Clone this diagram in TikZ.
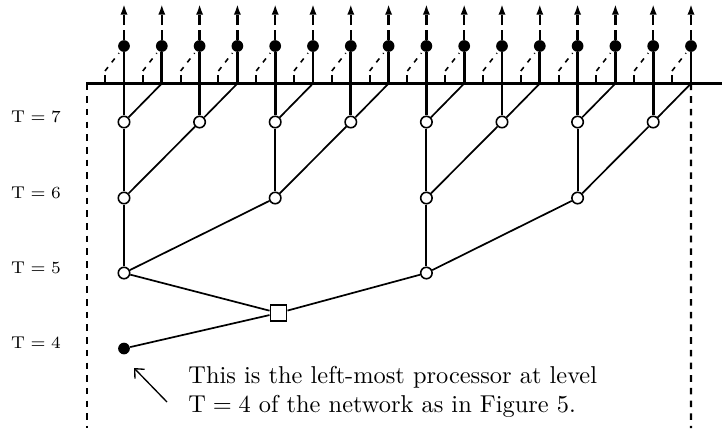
\documentclass[tikz,border=0pt]{standalone}
\usetikzlibrary{arrows.meta}
\begin{document}
\begin{tikzpicture}[x=0.41pt,y=-0.41pt,
  topdot/.style={circle,fill=black,inner sep=0pt,minimum size=4.8pt},
  pcirc/.style={circle,draw=black,fill=white,line width=0.65pt,inner sep=0pt,minimum size=4.7pt},
  sqnode/.style={rectangle,draw=black,fill=white,line width=0.75pt,inner sep=0pt,minimum size=6.6pt},
  busline/.style={line width=1.3pt},
  heavy/.style={line width=1.1pt},
  medium/.style={line width=0.85pt},
  thinl/.style={line width=0.7pt},
  upar/.style={line width=1.05pt,dash pattern=on 4pt off 2pt,-{Latex[length=4.4pt,width=3pt]}},
  tickl/.style={line width=0.85pt},
  diagdash/.style={line width=0.65pt,dash pattern=on 2pt off 2.5pt},
  border/.style={line width=0.85pt,dash pattern=on 2.7pt off 2.5pt},
  lvl/.style={font=\scriptsize,inner sep=0pt},
  note/.style={anchor=base west,inner sep=0pt},
  pointer/.style={line width=0.55pt,-{Straight Barb[length=3pt,width=5.5pt]}}
]
\useasboundingbox (0,0) rectangle (722,428);

% columns: coordinates and top dots
\foreach \i in {1,...,16}{
  \pgfmathsetmacro\cx{124+(\i-1)*37.8}
  \coordinate (b\i) at (\cx,83.5);
  \coordinate (a\i) at (\cx,4);
  \coordinate (k\i) at (\cx-19,83.5);
  \coordinate (kt\i) at (\cx-19,75);
  \coordinate (ds\i) at (\cx-19,71);
  \coordinate (de\i) at (\cx-5,53);
  \node[topdot] (t\i) at (\cx,46) {};
}

% processors
\foreach \i in {1,3,...,15}{
  \node[pcirc] (c7-\i) at ({124+(\i-1)*37.8},122) {};
}
\foreach \i in {1,5,9,13}{
  \node[pcirc] (c6-\i) at ({124+(\i-1)*37.8},198) {};
}
\foreach \i in {1,9}{
  \node[pcirc] (c5-\i) at ({124+(\i-1)*37.8},273) {};
}
\node[sqnode] (sq) at (278.5,313) {};
\node[topdot] (d4) at (124,348.5) {};

% bus and borders
\coordinate (busL) at (86,83.5);
\coordinate (busR) at (722,83.5);
\coordinate (lbT) at (87,83.5);
\coordinate (lbB) at (87,428);
\coordinate (rbB) at (691,428);
\draw[busline] (busL) -- (busR);
\draw[border] (lbT) -- (lbB);
\draw[border] (b16) -- (rbB);

% top part
\foreach \i in {1,...,16}{
  \draw[upar] (t\i) -- (a\i);
  \draw[tickl] (k\i) -- (kt\i);
  \draw[diagdash] (ds\i) -- (de\i);
}
\foreach \i in {2,4,...,16}{
  \draw[heavy] (b\i) -- (t\i);
}
\foreach \i [evaluate=\i as \j using int(\i+1)] in {1,3,...,15}{
  \draw[heavy] (c7-\i) -- (t\i);
  \draw[thinl] (c7-\i) -- (b\j);
}

% level T = 6
\draw[heavy] (c6-1) -- (c7-1);
\foreach \i in {5,9,13}{
  \draw[medium] (c6-\i) -- (c7-\i);
}
\foreach \i [evaluate=\i as \j using int(\i+2)] in {1,5,9,13}{
  \draw[thinl] (c6-\i) -- (c7-\j);
}

% level T = 5
\draw[heavy] (c5-1) -- (c6-1);
\draw[medium] (c5-9) -- (c6-9);
\draw[thinl] (c5-1) -- (c6-5);
\draw[thinl] (c5-9) -- (c6-13);

% level T = 4
\draw[thinl] (c5-1) -- (sq);
\draw[thinl] (c5-9) -- (sq);
\draw[thinl] (d4) -- (sq);

% level labels
\node[lvl] (l7) at (36,117) {$\mathrm{T} = 7$};
\node[lvl] (l6) at (36,193) {$\mathrm{T} = 6$};
\node[lvl] (l5) at (36,268) {$\mathrm{T} = 5$};
\node[lvl] (l4) at (36,343) {$\mathrm{T} = 4$};

% annotation
\node[note] (n1) at (188,383) {This is the left-most processor at level};
\node[note] (n2) at (188,412) {$\mathrm{T} = 4$ of the network as in Figure 5.};
\coordinate (ptail) at (167,402);
\coordinate (phead) at (134,368);
\draw[pointer] (ptail) -- (phead);
\end{tikzpicture}
\end{document}
